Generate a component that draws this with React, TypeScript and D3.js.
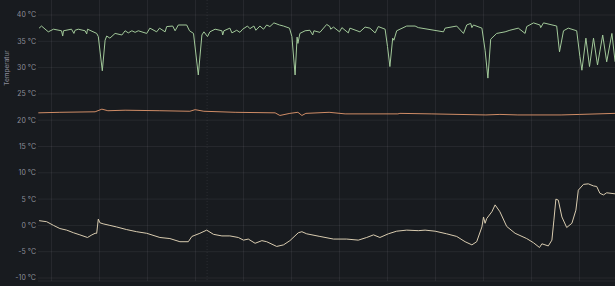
import React from "react";
import * as d3 from "d3";

// time in hours (grid every 12 h), temperatures in °C
const yTicks = [40, 35, 30, 25, 20, 15, 10, 5, 0, -5, -10];
const xGridHours = [0, 12, 24, 36, 48, 60, 72, 84, 96, 108, 120, 132];
const markerHours = [38.9];
const axisTitle = "Temperatur";

const greenSeries: [number, number][] = [
  [-3.1,37.5],[-2.5,37.9],[-0.8,36.8],[0.5,37.3],[2.5,37.0],[2.8,36.0],[3.0,37.0],[5.0,37.3],[5.6,36.5],[5.9,37.1],
  [6.7,37.3],[8.4,37.0],[8.8,36.4],[9.0,37.3],[11.3,36.5],[11.7,35.9],[12.7,29.4],[13.4,35.2],[13.8,36.0],[14.6,35.6],
  [15.9,36.5],[17.6,36.2],[18.4,37.0],[19.2,36.6],[20.1,37.0],[20.9,36.7],[21.7,37.0],[23.8,36.5],[24.6,37.5],[26.3,36.8],
  [27.0,37.5],[28.4,36.8],[28.8,37.8],[30.3,37.9],[30.9,37.0],[31.7,38.1],[33.8,38.1],[34.5,37.0],[35.5,36.5],[36.7,28.6],
  [37.6,36.2],[38.1,36.8],[39.0,35.9],[39.6,36.8],[40.9,37.3],[42.6,37.0],[42.8,36.2],[43.1,37.0],[44.6,37.5],[45.1,36.6],
  [46.3,37.1],[47.1,36.7],[47.8,37.3],[49.0,37.9],[49.6,37.4],[50.6,37.9],[51.1,37.1],[52.1,37.9],[53.0,37.3],[53.8,38.1],
  [54.6,37.8],[55.6,38.5],[57.0,38.1],[58.0,37.9],[59.5,37.5],[60.1,35.9],[60.9,28.6],[61.4,35.8],[61.6,34.6],[62.1,36.5],
  [63.4,37.0],[64.6,37.1],[65.3,36.2],[65.6,37.0],[67.1,36.7],[68.8,38.2],[69.6,37.8],[69.8,37.3],[70.5,37.7],[72.0,36.8],
  [72.6,37.6],[74.2,36.6],[74.6,37.5],[77.1,36.8],[78.4,37.7],[79.6,37.5],[80.9,36.6],[81.7,37.8],[83.4,37.3],[84.0,34.0],
  [84.6,30.2],[85.3,35.6],[85.6,35.2],[86.3,37.0],[88.8,37.9],[90.9,37.9],[91.7,37.6],[98.0,36.8],[98.4,37.5],[101.3,37.9],
  [103.0,36.5],[103.8,38.1],[104.8,38.4],[105.1,37.6],[105.5,38.1],[107.6,37.5],[108.4,33.3],[109.1,28.0],[109.8,35.4],[111.3,36.5],
  [113.4,36.8],[114.6,37.1],[116.7,37.5],[118.4,36.5],[118.8,37.8],[120.5,38.5],[122.1,38.1],[122.3,37.6],[123.0,38.5],[126.3,37.9],
  [127.0,33.0],[128.0,37.0],[129.2,37.5],[131.3,37.0],[132.1,32.1],[132.6,29.5],[133.6,35.6],[134.5,30.2],[135.5,35.6],[136.5,30.5],
  [137.8,36.2],[138.8,31.1],[140.1,36.5],[140.9,31.1],
];

const orangeSeries: [number, number][] = [
  [-3.3,21.4],[2.1,21.5],[10.9,21.6],[12.6,22.1],[14.1,21.8],[18.4,21.9],[27.1,21.8],[34.6,21.7],[35.9,22.0],[38.1,21.7],
  [45.9,21.5],[55.9,21.4],[57.1,20.9],[59.6,21.3],[61.6,21.5],[62.6,20.9],[63.6,21.3],[69.4,21.5],[73.4,21.2],[86.6,21.2],
  [87.1,21.3],[94.9,21.2],[108.6,21.0],[112.1,21.1],[116.6,21.0],[127.4,21.0],[132.1,21.1],[140.9,21.3],
];

const beigeSeries: [number, number][] = [
  [-3.1,0.9],[-1.2,0.7],[0.5,0.0],[2.1,-0.6],[3.8,-0.9],[5.5,-1.4],[7.1,-1.8],[9.0,-2.3],[10.1,-1.8],[10.9,-1.5],
  [11.3,-1.5],[11.7,1.2],[12.1,0.5],[12.9,0.3],[14.6,0.0],[16.3,-0.3],[18.8,-0.8],[21.3,-1.2],[23.8,-1.5],[27.1,-2.3],
  [29.6,-2.5],[32.1,-3.1],[34.2,-3.1],[35.1,-2.1],[37.1,-1.5],[38.8,-0.9],[40.5,-1.7],[42.6,-2.0],[44.6,-2.0],[46.7,-2.3],
  [48.0,-2.8],[49.2,-2.6],[50.9,-3.4],[52.6,-2.9],[53.8,-3.1],[56.3,-4.0],[58.0,-3.7],[59.6,-2.9],[61.7,-1.4],[62.6,-1.2],
  [63.8,-1.6],[67.1,-2.1],[70.5,-2.6],[73.8,-2.6],[76.7,-2.8],[78.8,-2.3],[80.5,-1.8],[82.1,-2.3],[84.2,-1.6],[86.3,-1.1],
  [88.8,-0.9],[91.7,-1.0],[93.4,-0.9],[95.9,-1.1],[98.8,-1.6],[101.3,-2.1],[103.4,-3.1],[105.1,-3.7],[106.3,-3.1],[107.6,-0.3],
  [108.0,1.6],[108.4,0.4],[108.8,1.3],[110.1,2.6],[110.9,3.9],[112.1,2.6],[113.8,-0.2],[115.9,-1.5],[118.8,-2.5],[120.5,-3.3],
  [122.0,-4.2],[122.6,-3.5],[124.2,-3.9],[125.1,-2.8],[125.6,1.0],[126.1,5.0],[126.7,4.8],[127.6,1.6],[128.8,-0.4],[130.1,0.4],
  [131.1,2.9],[131.7,6.7],[133.0,7.8],[134.2,7.9],[135.5,7.5],[136.3,7.4],[137.1,6.1],[138.0,5.8],[138.8,6.2],[140.9,6.0],
];

const seriesList = [
  { name: "green", data: greenSeries, color: "#a2c99a" },
  { name: "orange", data: orangeSeries, color: "#cf8c66" },
  { name: "beige", data: beigeSeries, color: "#d9ccb0" },
];

const W = 615;
const H = 286;
const plotLeft = 38;

export default function App() {
  const x = d3.scaleLinear().domain([-3.375, 140.875]).range([plotLeft, W]);
  const y = d3.scaleLinear().domain([-10, 40]).range([278, 15]);
  const line = d3
    .line<[number, number]>()
    .x((d) => x(d[0]))
    .y((d) => y(d[1]));
  const grid = "rgba(204,204,220,0.08)";
  return (
    <div style={{ position: "absolute", left: 0, top: 0, width: W, height: H, background: "#181b1f" }}>
      <svg width={W} height={H} style={{ display: "block", fontFamily: "Inter, sans-serif" }}>
        <rect x={0} y={0} width={W} height={H} fill="#181b1f" />
        {xGridHours.map((h) => (
          <line key={"vx" + h} x1={x(h)} x2={x(h)} y1={0} y2={281} stroke={grid} strokeWidth={1} />
        ))}
        {markerHours.map((h) => (
          <line key={"m" + h} x1={x(h)} x2={x(h)} y1={0} y2={281} stroke="rgba(204,204,220,0.1)" strokeWidth={1} strokeDasharray="1,2" />
        ))}
        {yTicks.map((t) => (
          <line key={"hy" + t} x1={plotLeft} x2={W} y1={y(t)} y2={y(t)} stroke={grid} strokeWidth={1} />
        ))}
        <line x1={plotLeft} x2={W} y1={281} y2={281} stroke={grid} strokeWidth={1} />
        {yTicks.map((t) => (
          <text
            key={"ty" + t}
            x={36}
            y={y(t)}
            dy="0.35em"
            textAnchor="end"
            fontSize={7}
            fill="rgba(204,204,220,0.65)"
          >
            {`${t} °C`}
          </text>
        ))}
        <text
          transform={`translate(9,68) rotate(-90)`}
          textAnchor="middle"
          fontSize={6.5}
          fill="rgba(204,204,220,0.65)"
        >
          {axisTitle}
        </text>
        {seriesList.map((s) => (
          <path key={s.name} d={line(s.data) || ""} fill="none" stroke={s.color} strokeWidth={1} strokeLinejoin="round" />
        ))}
      </svg>
    </div>
  );
}
